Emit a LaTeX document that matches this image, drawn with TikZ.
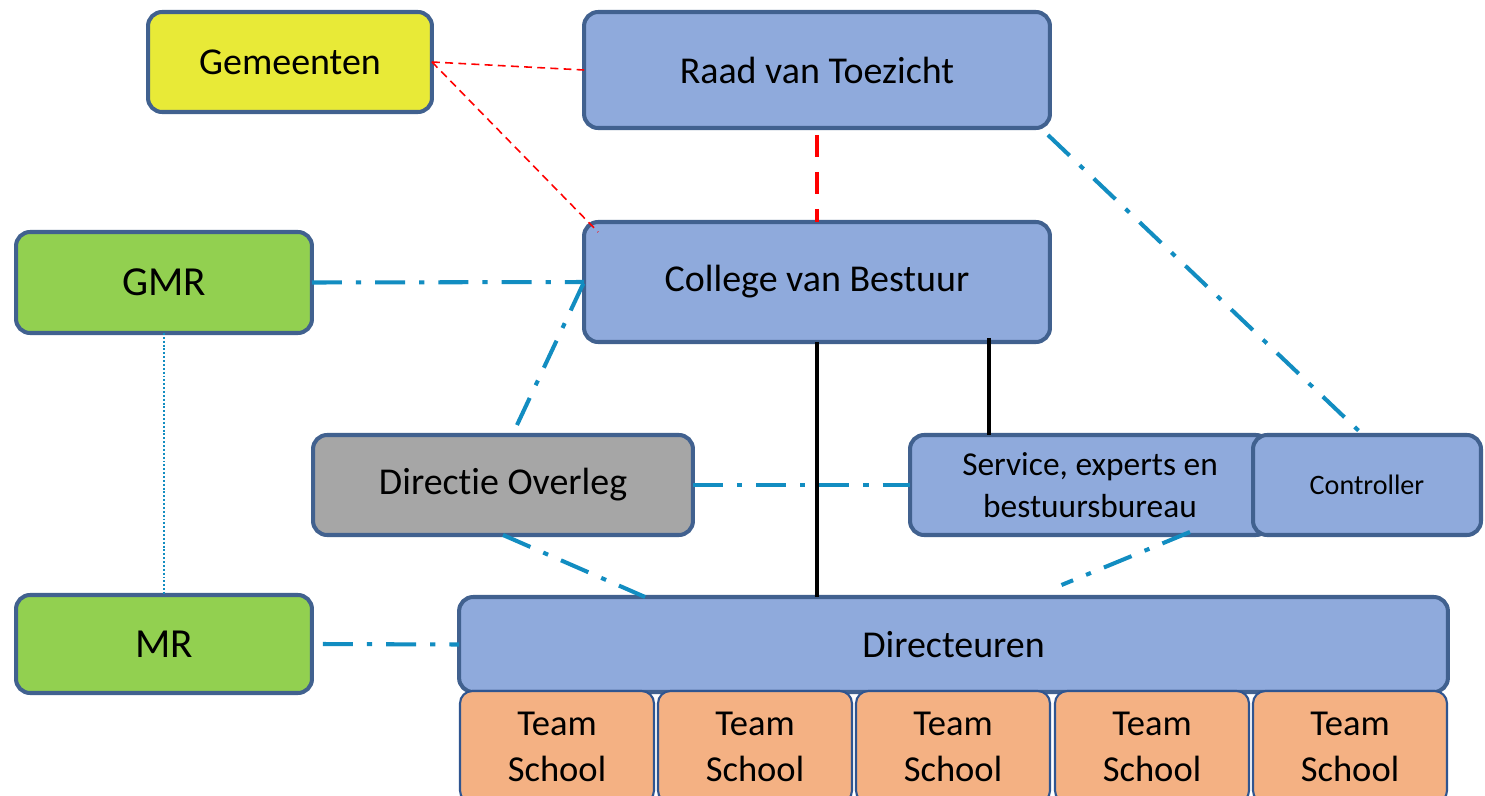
\documentclass[tikz,border=0pt]{standalone}
\usepackage{fontspec}
\setmainfont{Carlito}[Ligatures=NoCommon]
\usetikzlibrary{calc}
\definecolor{bordc}{HTML}{41618F}
\definecolor{teamb}{HTML}{2F5590}
\definecolor{boxblue}{HTML}{8FAADC}
\definecolor{yel}{HTML}{E8EA37}
\definecolor{grn}{HTML}{92D050}
\definecolor{gry}{HTML}{A6A6A6}
\definecolor{org}{HTML}{F4B183}
\definecolor{lblue}{HTML}{128DC1}
\begin{document}
\begin{tikzpicture}[x=0.02cm,y=-0.02cm,
  box/.style={draw=bordc, line width=2.3pt, rounded corners=8pt, inner sep=0pt, outer sep=0pt, align=center, font=\fontsize{21.6}{25}\selectfont},
  teambox/.style={draw=teamb, line width=1.2pt, rounded corners=7pt, fill=org, inner sep=0pt, outer sep=0pt, align=center, minimum width=3.88cm, minimum height=2.24cm, font=\fontsize{20.8}{26}\selectfont},
  redthin/.style={draw=red, line width=0.9pt, dash pattern=on 4.5pt off 3pt},
  redthick/.style={draw=red, line width=2.8pt, dash pattern=on 12.5pt off 8.5pt},
  bluedd/.style={draw=lblue, line width=2.3pt, dash pattern=on 17pt off 8pt on 3pt off 8pt},
  bluedot/.style={draw=lblue, line width=1.1pt, dash pattern=on 1.1pt off 1.1pt},
  blk/.style={draw=black, line width=2.3pt}]
\clip (0,0) rectangle (1485,795);
\fill[white] (0,0) rectangle (1485,795);
% boxes
\node[box, fill=yel, minimum width=5.68cm, minimum height=2cm] (gem) at (290,62) {Gemeenten};
\node[box, fill=boxblue, minimum width=9.32cm, minimum height=2.32cm] (raad) at (817,70) {Raad van Toezicht};
\node[box, fill=boxblue, minimum width=9.32cm, minimum height=2.4cm] (coll) at (817,282) {College van Bestuur};
\node[box, fill=grn, minimum width=5.92cm, minimum height=2.02cm, font=\fontsize{23.5}{27}\selectfont] (gmr) at (164,282.5) {GMR};
\node[box, fill=gry, minimum width=7.6cm, minimum height=2cm] (dir) at (503,485) {Directie Overleg};
\node[box, fill=boxblue, minimum width=7.2cm, minimum height=2cm, font=\fontsize{19}{23.5}\selectfont] (serv) at (1090,485) {Service, experts en\\bestuursbureau};
\node[box, fill=boxblue, minimum width=4.56cm, minimum height=2cm, font=\fontsize{16}{19}\selectfont] (ctrl) at (1367,485) {Controller};
\node[box, fill=grn, minimum width=5.92cm, minimum height=1.96cm, font=\fontsize{23.5}{27}\selectfont] (mr) at (164,644) {MR};
\node[box, fill=boxblue, minimum width=19.78cm, minimum height=1.9cm] (dirs) at (953.5,644.5) {Directeuren};
\node[teambox] (t1) at (557,747) {Team\\School};
\node[teambox] (t2) at (755,747) {Team\\School};
\node[teambox] (t3) at (953,747) {Team\\School};
\node[teambox] (t4) at (1152,747) {Team\\School};
\node[teambox] (t5) at (1350,747) {Team\\School};
% connectors
\coordinate (cs) at ($(coll.south)+(172,-4)$);
\draw[redthin] (gem.east) -- (raad.west);
\draw[redthin] (gem.east) -- ($(coll.north west)+(14,10)$);
\draw[redthick] ($(raad.south)+(0,7)$) -- (coll.north);
\draw[bluedd] ($(raad.south east)+(-2,7)$) -- ($(ctrl.north)+(-7,-3)$);
\draw[bluedd] (gmr.east) -- (coll.west);
\draw[bluedd] ($(dir.north)+(14,-10)$) -- (coll.west);
\draw[bluedot] (gmr.south) -- (mr.north);
\draw[bluedd] (dir.east) -- (serv.west);
\draw[bluedd] (dir.south) -- ($(dirs.north west)+(186,0)$);
\draw[bluedd] ($(serv.south)+(100,-3)$) -- ($(dirs.north)+(108,-12)$);
\draw[bluedd] ($(mr.east)+(11,0)$) -- (dirs.west);
\draw[blk] (coll.south) -- (coll.south |- dirs.north);
\draw[blk] (cs) -- (cs |- serv.north);
\end{tikzpicture}
\end{document}
